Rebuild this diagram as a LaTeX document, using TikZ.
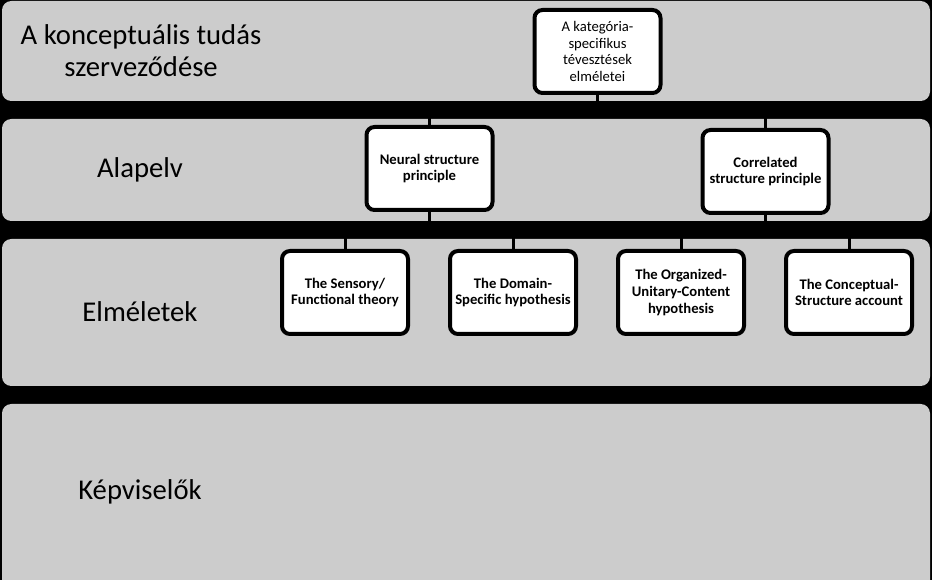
\documentclass[tikz,border=0pt]{standalone}
\usepackage{fontspec}
\setmainfont{Carlito}
\definecolor{bandgray}{HTML}{CCCCCC}
\tikzset{
    band/.style={fill=bandgray, rounded corners=7pt},
    bandlabel/.style={align=center, font=\fontsize{21.5}{24}\selectfont},
    conn/.style={draw, line width=2.25pt}
}
\begin{document}
\begin{tikzpicture}[x=0.75pt, y=-0.75pt]
    \useasboundingbox (0,0) rectangle (932,580);
    \clip (0,0) rectangle (932,580);
    \fill[black] (0,0) rectangle (932,580);

    \fill[band] (2,1) rectangle (930,101);
    \fill[band] (2,119) rectangle (930,221);
    \fill[band] (2,239) rectangle (930,386);
    \fill[band] (2,404) rectangle (930,600);

    \node[bandlabel] (lvl1) at (141,51) {A konceptuális tudás\\szerveződése};
    \node[bandlabel] (lvl2) at (140,170) {Alapelv};
    \node[bandlabel] (lvl3) at (140,312) {Elméletek};
    \node[bandlabel] (lvl4) at (140,492) {Képviselők};

    \begin{scope}[every node/.style={rectangle, draw, fill=white, line width=3pt, rounded corners=6pt, minimum width=94.5pt, minimum height=62.25pt, inner sep=2pt, align=center, font=\bfseries\fontsize{11}{12.5}\selectfont}]
        \node[font=\fontsize{11}{12.5}\selectfont] (top) at (597.5,51.5) {A kategória-\\specifikus\\tévesztések\\elméletei};
        \node (neural) at (429.5,168.5) {Neural structure\\principle};
        \node (correlated) at (765.5,171.5) {Correlated\\structure principle};
        \node (sensory) at (345,292.5) {The Sensory/\\Functional theory};
        \node (domain) at (513,292.5) {The Domain-\\Specific hypothesis};
        \node (organized) at (681,292.5) {The Organized-\\Unitary-Content\\hypothesis};
        \node (conceptual) at (849,292.5) {The Conceptual-\\Structure account};
    \end{scope}

    \coordinate (j1) at (597.5,110);
    \coordinate (j2) at (429.5,230);
    \coordinate (j3) at (765.5,230);

    \begin{scope}[every path/.style={conn}]
        \path (top.south) -- (j1) -| (neural.north);
        \path (j1) -| (correlated.north);
        \path (neural.south) -- (j2) -| (sensory.north);
        \path (j2) -| (domain.north);
        \path (correlated.south) -- (j3) -| (organized.north);
        \path (j3) -| (conceptual.north);
    \end{scope}
\end{tikzpicture}
\end{document}
